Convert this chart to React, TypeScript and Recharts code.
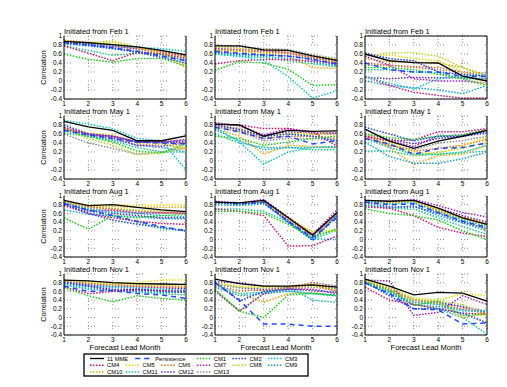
import React from "react";
import { LineChart, Line, XAxis, YAxis, CartesianGrid, ReferenceLine } from "recharts";

const FONT = "'Liberation Sans', Arial, sans-serif";

const MONTHS = [1, 2, 3, 4, 5, 6];
const Y_TICKS = [-0.4, -0.2, 0, 0.2, 0.4, 0.6, 0.8, 1];
const STARTS = ["Feb 1", "May 1", "Aug 1", "Nov 1"];

const SERIES = [
  "11 MME", "Persistence", "CM1", "CM2", "CM3", "CM4", "CM5", "CM6",
  "CM7", "CM8", "CM9", "CM10", "CM11", "CM12", "CM13",
];

// order of rows in each panel array follows SERIES
const FEB_1 = [
  [0.88, 0.85, 0.81, 0.76, 0.68, 0.58],
  [0.85, 0.8, 0.74, 0.66, 0.55, 0.45],
  [0.6, 0.48, 0.42, 0.5, 0.5, 0.33],
  [0.86, 0.8, 0.72, 0.64, 0.52, 0.4],
  [0.85, 0.83, 0.79, 0.75, 0.72, 0.66],
  [0.78, 0.62, 0.45, 0.64, 0.6, 0.5],
  [0.88, 0.84, 0.86, 0.74, 0.62, 0.52],
  [0.9, 0.86, 0.8, 0.74, 0.66, 0.55],
  [0.86, 0.82, 0.78, 0.72, 0.64, 0.52],
  [0.88, 0.85, 0.89, 0.76, 0.65, 0.35],
  [0.82, 0.78, 0.72, 0.66, 0.58, 0.45],
  [0.9, 0.85, 0.78, 0.7, 0.6, 0.3],
  [0.78, 0.68, 0.57, 0.62, 0.58, 0.46],
  [0.84, 0.8, 0.76, 0.72, 0.64, 0.55],
  [0.86, 0.83, 0.78, 0.73, 0.66, 0.58],
];
const FEB_2 = [
  [0.78, 0.78, 0.69, 0.68, 0.56, 0.46],
  [0.66, 0.62, 0.58, 0.55, 0.48, 0.38],
  [0.24, 0.43, 0.4, 0.26, -0.1, -0.08],
  [0.65, 0.6, 0.58, 0.56, 0.48, 0.36],
  [0.6, 0.55, 0.45, 0.1, -0.38, -0.22],
  [0.38, 0.45, 0.48, 0.48, 0.44, 0.4],
  [0.75, 0.72, 0.7, 0.66, 0.56, 0.48],
  [0.7, 0.68, 0.65, 0.62, 0.52, 0.42],
  [0.72, 0.7, 0.68, 0.62, 0.52, 0.45],
  [0.68, 0.66, 0.64, 0.6, 0.5, 0.4],
  [0.62, 0.58, 0.55, 0.5, 0.42, 0.34],
  [0.68, 0.66, 0.62, 0.55, 0.3, 0.28],
  [0.6, 0.55, 0.52, 0.45, 0.38, 0.32],
  [0.74, 0.72, 0.68, 0.64, 0.55, 0.47],
  [0.8, 0.76, 0.72, 0.7, 0.58, 0.5],
];
const FEB_3 = [
  [0.6, 0.45, 0.41, 0.4, 0.11, 0.0],
  [0.4, 0.25, 0.2, 0.2, 0.1, 0.1],
  [0.3, 0.3, 0.25, 0.15, 0.05, -0.1],
  [0.62, 0.5, 0.45, 0.2, 0.15, 0.1],
  [0.1, -0.05, -0.18, 0.05, 0.1, 0.15],
  [0.1, -0.1, -0.25, -0.32, -0.38, -0.38],
  [0.58, 0.58, 0.5, 0.45, 0.2, -0.1],
  [0.4, 0.35, 0.32, 0.3, 0.2, 0.1],
  [0.55, 0.35, 0.05, 0.0, 0.0, -0.05],
  [0.55, 0.63, 0.63, 0.55, 0.3, 0.1],
  [0.0, -0.1, -0.15, -0.2, -0.28, -0.1],
  [0.5, 0.42, 0.42, 0.4, 0.3, 0.12],
  [0.25, 0.25, 0.2, 0.18, 0.05, 0.05],
  [0.08, 0.05, 0.08, 0.07, 0.07, 0.05],
  [0.35, 0.35, 0.3, 0.25, 0.2, 0.18],
];
const MAY_1 = [
  [0.88, 0.76, 0.68, 0.45, 0.45, 0.56],
  [0.68, 0.58, 0.5, 0.42, 0.4, 0.38],
  [0.7, 0.55, 0.42, 0.22, 0.18, 0.38],
  [0.8, 0.6, 0.55, 0.42, 0.42, 0.45],
  [0.9, 0.82, 0.72, 0.5, 0.45, -0.2],
  [0.7, 0.6, 0.55, 0.42, 0.42, 0.48],
  [0.78, 0.62, 0.58, 0.4, 0.4, 0.3],
  [0.72, 0.6, 0.54, 0.44, 0.44, 0.4],
  [0.75, 0.58, 0.52, 0.35, 0.33, 0.4],
  [0.7, 0.5, 0.35, 0.15, 0.17, 0.3],
  [0.68, 0.55, 0.48, 0.35, 0.3, 0.2],
  [0.72, 0.6, 0.5, 0.35, 0.38, 0.25],
  [0.62, 0.55, 0.45, 0.3, 0.2, 0.2],
  [0.75, 0.6, 0.56, 0.42, 0.4, 0.42],
  [0.6, 0.4, 0.28, 0.15, 0.2, 0.3],
];
const MAY_2 = [
  [0.82, 0.8, 0.55, 0.68, 0.66, 0.67],
  [0.75, 0.65, 0.5, 0.55, 0.38, 0.45],
  [0.55, 0.5, 0.35, 0.42, 0.5, 0.55],
  [0.8, 0.7, 0.55, 0.6, 0.55, 0.45],
  [0.75, 0.42, -0.07, 0.2, 0.3, 0.32],
  [0.82, 0.8, 0.72, 0.72, 0.65, 0.33],
  [0.8, 0.72, 0.55, 0.62, 0.6, 0.58],
  [0.78, 0.68, 0.5, 0.55, 0.55, 0.5],
  [0.85, 0.78, 0.58, 0.72, 0.62, 0.62],
  [0.78, 0.65, 0.52, 0.6, 0.6, 0.65],
  [0.7, 0.45, 0.25, 0.3, 0.3, 0.3],
  [0.72, 0.55, 0.15, 0.35, 0.32, 0.3],
  [0.6, 0.4, 0.3, 0.3, 0.25, 0.25],
  [0.8, 0.72, 0.55, 0.65, 0.6, 0.6],
  [0.76, 0.65, 0.45, 0.5, 0.5, 0.45],
];
const MAY_3 = [
  [0.71, 0.44, 0.28, 0.44, 0.55, 0.68],
  [0.5, 0.38, 0.15, 0.28, 0.3, 0.4],
  [0.6, 0.52, 0.48, 0.55, 0.58, 0.7],
  [0.75, 0.6, 0.45, 0.55, 0.55, 0.62],
  [0.5, 0.3, 0.15, 0.15, 0.2, 0.35],
  [0.55, 0.45, 0.47, 0.65, 0.65, 0.72],
  [0.6, 0.42, 0.2, 0.15, 0.35, 0.52],
  [0.55, 0.35, 0.22, 0.28, 0.35, 0.48],
  [0.55, 0.45, 0.32, 0.55, 0.58, 0.7],
  [0.55, 0.38, 0.12, 0.2, 0.28, 0.42],
  [0.42, 0.1, -0.05, -0.05, 0.05, 0.2],
  [0.55, 0.3, -0.08, 0.12, 0.15, 0.35],
  [0.22, 0.22, 0.12, 0.15, 0.18, 0.22],
  [0.6, 0.48, 0.38, 0.5, 0.55, 0.65],
  [0.5, 0.35, 0.25, 0.4, 0.45, 0.55],
];
const AUG_1 = [
  [0.9, 0.78, 0.8, 0.74, 0.68, 0.64],
  [0.82, 0.68, 0.55, 0.42, 0.3, 0.2],
  [0.5, 0.24, 0.55, 0.5, 0.55, 0.58],
  [0.82, 0.6, 0.45, 0.35, 0.28, 0.2],
  [0.84, 0.7, 0.62, 0.6, 0.55, 0.52],
  [0.78, 0.6, 0.5, 0.42, 0.37, 0.35],
  [0.88, 0.78, 0.8, 0.78, 0.8, 0.8],
  [0.88, 0.75, 0.7, 0.65, 0.62, 0.6],
  [0.86, 0.65, 0.68, 0.6, 0.62, 0.6],
  [0.86, 0.74, 0.72, 0.68, 0.65, 0.62],
  [0.68, 0.58, 0.55, 0.52, 0.48, 0.48],
  [0.88, 0.76, 0.76, 0.74, 0.74, 0.74],
  [0.8, 0.65, 0.55, 0.4, 0.25, 0.2],
  [0.84, 0.68, 0.6, 0.55, 0.5, 0.5],
  [0.86, 0.72, 0.65, 0.62, 0.6, 0.62],
];
const AUG_2 = [
  [0.86, 0.84, 0.9, 0.5, 0.1, 0.62],
  [0.86, 0.82, 0.86, 0.42, 0.05, 0.5],
  [0.65, 0.65, 0.6, 0.35, 0.05, 0.25],
  [0.85, 0.82, 0.85, 0.4, -0.02, 0.55],
  [0.85, 0.8, 0.85, 0.4, 0.0, 0.55],
  [0.7, 0.65, 0.55, -0.15, -0.14, 0.08],
  [0.85, 0.84, 0.88, 0.5, 0.18, 0.22],
  [0.84, 0.82, 0.86, 0.45, 0.1, 0.58],
  [0.88, 0.84, 0.92, 0.52, 0.12, 0.68],
  [0.84, 0.8, 0.86, 0.48, 0.15, 0.2],
  [0.8, 0.78, 0.82, 0.42, 0.02, 0.0],
  [0.86, 0.84, 0.88, 0.48, 0.1, 0.55],
  [0.7, 0.7, 0.65, 0.4, 0.0, 0.22],
  [0.86, 0.83, 0.88, 0.5, 0.12, 0.6],
  [0.84, 0.8, 0.86, 0.45, 0.08, 0.55],
];
const AUG_3 = [
  [0.9, 0.88, 0.9, 0.72, 0.5, 0.35],
  [0.86, 0.8, 0.82, 0.62, 0.42, 0.28],
  [0.7, 0.6, 0.55, 0.45, 0.2, 0.0],
  [0.85, 0.75, 0.75, 0.6, 0.4, 0.25],
  [0.88, 0.82, 0.85, 0.62, 0.45, 0.3],
  [0.75, 0.72, 0.55, 0.28, 0.15, 0.07],
  [0.9, 0.86, 0.88, 0.7, 0.5, 0.3],
  [0.88, 0.85, 0.88, 0.68, 0.52, 0.38],
  [0.9, 0.88, 0.92, 0.78, 0.62, 0.52],
  [0.86, 0.84, 0.88, 0.65, 0.45, 0.22],
  [0.8, 0.72, 0.78, 0.55, 0.38, 0.2],
  [0.88, 0.86, 0.9, 0.68, 0.5, 0.32],
  [0.78, 0.72, 0.7, 0.5, 0.3, 0.12],
  [0.88, 0.86, 0.9, 0.72, 0.55, 0.4],
  [0.86, 0.84, 0.86, 0.66, 0.48, 0.35],
];
const NOV_1 = [
  [0.86, 0.84, 0.8, 0.78, 0.77, 0.76],
  [0.72, 0.6, 0.62, 0.55, 0.52, 0.44],
  [0.68, 0.5, 0.36, 0.5, 0.44, 0.4],
  [0.8, 0.72, 0.65, 0.65, 0.6, 0.58],
  [0.8, 0.72, 0.7, 0.68, 0.65, 0.62],
  [0.7, 0.55, 0.6, 0.65, 0.62, 0.62],
  [0.86, 0.82, 0.78, 0.8, 0.86, 0.86],
  [0.84, 0.78, 0.75, 0.72, 0.7, 0.7],
  [0.8, 0.72, 0.62, 0.62, 0.62, 0.6],
  [0.86, 0.8, 0.78, 0.76, 0.75, 0.74],
  [0.75, 0.65, 0.62, 0.6, 0.58, 0.58],
  [0.85, 0.8, 0.76, 0.74, 0.74, 0.72],
  [0.76, 0.68, 0.62, 0.58, 0.55, 0.52],
  [0.82, 0.75, 0.7, 0.7, 0.68, 0.66],
  [0.82, 0.76, 0.72, 0.72, 0.7, 0.68],
];
const NOV_2 = [
  [0.88, 0.78, 0.72, 0.72, 0.75, 0.7],
  [0.8, 0.4, -0.15, -0.15, -0.2, -0.2],
  [0.65, 0.15, 0.0, 0.52, 0.55, 0.5],
  [0.82, 0.38, 0.6, 0.65, 0.62, 0.58],
  [0.75, 0.55, 0.58, 0.62, 0.55, 0.5],
  [0.62, 0.15, 0.55, 0.65, 0.65, 0.55],
  [0.8, 0.72, 0.7, 0.72, 0.78, 0.7],
  [0.72, 0.62, 0.62, 0.68, 0.76, 0.6],
  [0.82, 0.8, 0.72, 0.7, 0.8, 0.72],
  [0.78, 0.7, 0.68, 0.7, 0.72, 0.65],
  [0.7, 0.5, 0.55, 0.6, 0.55, 0.52],
  [0.68, 0.55, 0.35, 0.55, 0.58, 0.5],
  [0.6, 0.15, 0.55, 0.7, 0.4, 0.35],
  [0.78, 0.7, 0.65, 0.68, 0.75, 0.66],
  [0.76, 0.68, 0.62, 0.65, 0.7, 0.62],
];
const NOV_3 = [
  [0.88, 0.72, 0.52, 0.58, 0.56, 0.38],
  [0.8, 0.55, 0.2, 0.18, -0.15, -0.12],
  [0.82, 0.62, 0.28, 0.38, 0.05, 0.08],
  [0.82, 0.5, 0.2, 0.2, 0.1, -0.12],
  [0.8, 0.6, 0.35, 0.3, 0.15, 0.15],
  [0.7, 0.4, 0.3, 0.2, 0.1, 0.08],
  [0.85, 0.7, 0.45, 0.4, 0.55, 0.5],
  [0.82, 0.62, 0.35, 0.3, 0.2, 0.1],
  [0.86, 0.84, 0.05, 0.12, 0.5, 0.3],
  [0.85, 0.68, 0.42, 0.38, 0.3, 0.05],
  [0.78, 0.58, 0.3, 0.25, 0.18, 0.12],
  [0.84, 0.62, 0.4, 0.35, 0.0, 0.08],
  [0.8, 0.55, 0.3, 0.2, 0.0, -0.38],
  [0.84, 0.68, 0.4, 0.35, 0.25, 0.12],
  [0.82, 0.65, 0.4, 0.32, 0.25, 0.15],
];

const PANELS = [
  [FEB_1, FEB_2, FEB_3],
  [MAY_1, MAY_2, MAY_3],
  [AUG_1, AUG_2, AUG_3],
  [NOV_1, NOV_2, NOV_3],
];

const LEGEND_ROWS = [
  ["11 MME", "Persistence", "CM1", "CM2", "CM3"],
  ["CM4", "CM5", "CM6", "CM7", "CM8", "CM9"],
  ["CM10", "CM11", "CM12", "CM13"],
];

// line styles
const STYLE: Record<string, { color: string; dash?: string; width: number }> = {
  "11 MME": { color: "#000000", width: 1.3 },
  Persistence: { color: "#2345ff", dash: "5 4", width: 1.5 },
  CM1: { color: "#18d018", dash: "1.5 1.5", width: 1.5 },
  CM2: { color: "#2040ff", dash: "1.5 1.5", width: 1.5 },
  CM3: { color: "#10c8c8", dash: "1.5 1.5", width: 1.5 },
  CM4: { color: "#e0106a", dash: "1.5 1.5", width: 1.5 },
  CM5: { color: "#e8e010", dash: "1.5 1.5", width: 1.5 },
  CM6: { color: "#f06a28", dash: "1.5 1.5", width: 1.5 },
  CM7: { color: "#a020d0", dash: "1.5 1.5", width: 1.5 },
  CM8: { color: "#b4d828", dash: "1.5 1.5", width: 1.5 },
  CM9: { color: "#18a0e8", dash: "1.5 1.5", width: 1.5 },
  CM10: { color: "#f0a818", dash: "1.5 1.5", width: 1.5 },
  CM11: { color: "#18c88c", dash: "1.5 1.5", width: 1.5 },
  CM12: { color: "#5a28c8", dash: "1.5 1.5", width: 1.5 },
  CM13: { color: "#8c8c8c", dash: "1.5 1.5", width: 1.5 },
};

const COL_X = [64, 215, 365];
const ROW_Y = [36, 116, 196, 274];
const ROW_H = [63, 63, 61, 61];
const PW = 122;
const YW = 30;
const XH = 10;
const PAD = 5;
const TICK = { fontSize: 6.5, fill: "#000", fontFamily: FONT };

const fmt = (v: number) => (v === 0 ? "0" : v === 1 ? "1" : v.toFixed(1));

function Panel({ values, x, y, h, topBorder }: { values: number[][]; x: number; y: number; h: number; topBorder: boolean }) {
  const rows = MONTHS.map((m, i) => {
    const r: Record<string, number> = { month: m };
    SERIES.forEach((s, j) => (r[s] = values[j][i]));
    return r;
  });
  const drawOrder = [...SERIES].reverse();
  return (
    <div style={{ position: "absolute", left: x - YW, top: y - PAD }}>
      <LineChart width={YW + PW + PAD} height={PAD + h + XH} data={rows} margin={{ top: PAD, right: PAD, left: 0, bottom: 0 }}>
        <CartesianGrid stroke="#909090" strokeDasharray="1 2 1 2 1 17" />
        <XAxis
          dataKey="month"
          type="number"
          domain={[1, 6]}
          ticks={MONTHS}
          height={XH}
          tickLine={false}
          tickSize={2}
          tickMargin={0}
          axisLine={{ stroke: "#000" }}
          tick={TICK}
        />
        <YAxis
          type="number"
          domain={[-0.4, 1]}
          ticks={Y_TICKS}
          interval={0}
          width={YW}
          tickLine={false}
          tickSize={2}
          tickMargin={0}
          tickFormatter={fmt}
          axisLine={{ stroke: "#000" }}
          tick={TICK}
        />
        <ReferenceLine x={6} stroke="#000" />
        {topBorder && <ReferenceLine y={1} stroke="#000" />}
        {drawOrder.map((s) => (
          <Line
            key={s}
            dataKey={s}
            type="linear"
            stroke={STYLE[s].color}
            strokeWidth={STYLE[s].width}
            strokeDasharray={STYLE[s].dash}
            dot={false}
            isAnimationActive={false}
          />
        ))}
      </LineChart>
    </div>
  );
}

export default function App() {
  const slots = [[0, 1.27, 3, 4, 5], [0, 1, 2, 3, 4, 5], [0, 1, 2, 3]];
  return (
    <div style={{ position: "absolute", left: 0, top: 0, width: 507, height: 387, background: "#fff", overflow: "hidden" }}>
      {PANELS.map((row, r) =>
        row.map((vals, c) => (
          <Panel key={`${r}-${c}`} values={vals} x={COL_X[c]} y={ROW_Y[r]} h={ROW_H[r]} topBorder={r === 0 && c === 2} />
        ))
      )}
      <svg width={507} height={387} style={{ position: "absolute", left: 0, top: 0, pointerEvents: "none" }} fontFamily={FONT}>
        {ROW_Y.map((y, r) =>
          COL_X.map((x, c) => (
            <text key={`t${r}${c}`} x={x} y={y - 2.5} fontSize={7.5} fill="#000">
              Initiated from {STARTS[r]}
            </text>
          ))
        )}
        {ROW_Y.map((y, r) => (
          <text key={`c${r}`} transform={`translate(46 ${y + ROW_H[r] / 2}) rotate(-90)`} textAnchor="middle" fontSize={7} fill="#000">
            Correlation
          </text>
        ))}
        {COL_X.map((x, c) => (
          <text key={`f${c}`} x={x + PW / 2} y={350} textAnchor="middle" fontSize={7.5} fill="#000">
            Forecast Lead Month
          </text>
        ))}
        <rect x={84} y={354} width={224} height={22} fill="#fff" stroke="#000" strokeWidth={1.3} />
        {LEGEND_ROWS.map((items, r) =>
          items.map((s, i) => {
            const lx = 90 + 35.6 * slots[r][i];
            const ly = 358.5 + r * 6.8;
            const len = s === "Persistence" ? 17 : 14;
            return (
              <g key={s}>
                <line x1={lx} x2={lx + len} y1={ly} y2={ly} stroke={STYLE[s].color} strokeWidth={STYLE[s].width} strokeDasharray={STYLE[s].dash} />
                <text x={lx + len + 3} y={ly + 2} fontSize={5.8} fill="#000">
                  {s}
                </text>
              </g>
            );
          })
        )}
      </svg>
    </div>
  );
}
